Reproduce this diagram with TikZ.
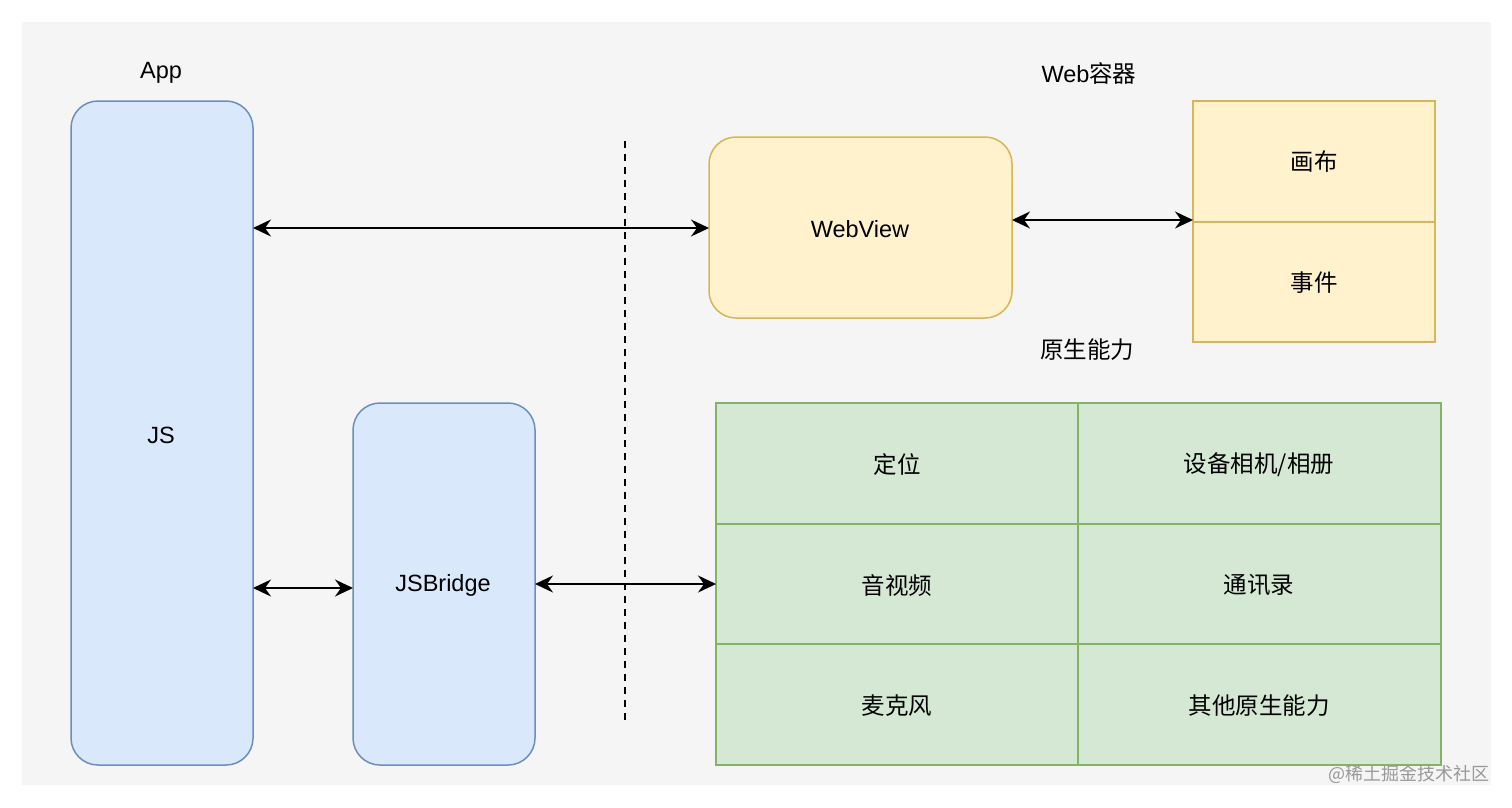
\documentclass[tikz,border=0pt]{standalone}
\usepackage{fontspec}
\setmainfont{Liberation Sans}
\newfontfamily\cjk{Noto Sans CJK SC}
\usetikzlibrary{arrows.meta}
\definecolor{bgc}{HTML}{F5F5F5}
\definecolor{bluef}{HTML}{DAE8FC}
\definecolor{blued}{HTML}{6C8EBF}
\definecolor{yelf}{HTML}{FFF2CC}
\definecolor{yeld}{HTML}{D6B656}
\definecolor{grnf}{HTML}{D5E8D4}
\definecolor{grnd}{HTML}{82B366}
\tikzset{
  lbl/.style={font=\fontsize{23.5}{27}\selectfont, text=black},
  bluebox/.style={draw=blued, fill=bluef, line width=1.5pt, rounded corners=27pt},
  yelbox/.style={draw=yeld, fill=yelf, line width=1.5pt, rounded corners=27pt},
  yelcell/.style={draw=yeld, fill=yelf, line width=1.5pt},
  grncell/.style={draw=grnd, fill=grnf, line width=1.5pt},
  conn/.style={line width=1.8pt, {Stealth[length=18pt,width=17pt,inset=6pt]}-{Stealth[length=18pt,width=17pt,inset=6pt]}},
}
\begin{document}
\begin{tikzpicture}[x=1pt,y=-1pt]
\useasboundingbox (0,0) rectangle (1512,807);
\fill[bgc] (22,22) rectangle (1491,785);
% App
\node[lbl] (applbl) at (161,73) {App};
\draw[bluebox] (71,101) rectangle (253,765);
\node[lbl] (js) at (161,435) {JS};
\coordinate (jsE1) at (253,228);
\coordinate (jsE2) at (253,588);
% JSBridge
\draw[bluebox] (353,403) rectangle (535,765);
\node[lbl] (jsb) at (443,585) {JSBridge};
\coordinate (jsbW) at (353,588);
\coordinate (jsbE) at (535,584);
% dashed divider
\coordinate (dtop) at (625,141);
\coordinate (dbot) at (625,725);
\draw[line width=1.8pt, dash pattern=on 7pt off 6pt] (dtop) -- (dbot);
% Web container
\node[lbl] (weblbl) at (1089,73) {Web{\cjk 容器}};
\draw[yelbox] (709,137) rectangle (1012,318);
\node[lbl] (wv) at (860,229) {WebView};
\coordinate (wvW) at (709,228);
\coordinate (wvE) at (1012,220);
\draw[yelcell] (1193,101) rectangle (1435,222);
\draw[yelcell] (1193,222) rectangle (1435,342);
\node[lbl] (canvas) at (1314,162) {\cjk 画布};
\node[lbl] (event) at (1314,283) {\cjk 事件};
\coordinate (cvW) at (1193,220);
% native capabilities
\node[lbl] (natlbl) at (1087,350) {\cjk 原生能力};
\draw[grncell] (716,403) rectangle (1078,524);
\draw[grncell] (1078,403) rectangle (1441,524);
\draw[grncell] (716,524) rectangle (1078,644);
\draw[grncell] (1078,524) rectangle (1441,644);
\draw[grncell] (716,644) rectangle (1078,765);
\draw[grncell] (1078,644) rectangle (1441,765);
\node[lbl] (c1) at (897,465) {\cjk 定位};
\node[lbl] (c2) at (1259,465) {\cjk 设备相机/相册};
\node[lbl] (c3) at (897,585) {\cjk 音视频};
\node[lbl] (c4) at (1259,585) {\cjk 通讯录};
\node[lbl] (c5) at (897,706) {\cjk 麦克风};
\node[lbl] (c6) at (1259,706) {\cjk 其他原生能力};
\coordinate (gW) at (716,584);
% connectors
\draw[conn] (jsE1) -- (wvW);
\draw[conn] (wvE) -- (cvW);
\draw[conn] (jsE2) -- (jsbW);
\draw[conn] (jsbE) -- (gW);
% watermark
\node[anchor=east, text=gray!80, font=\cjk\fontsize{18}{21}\selectfont, inner sep=0pt] (wm) at (1490,774) {@稀土掘金技术社区};
\end{tikzpicture}
\end{document}
